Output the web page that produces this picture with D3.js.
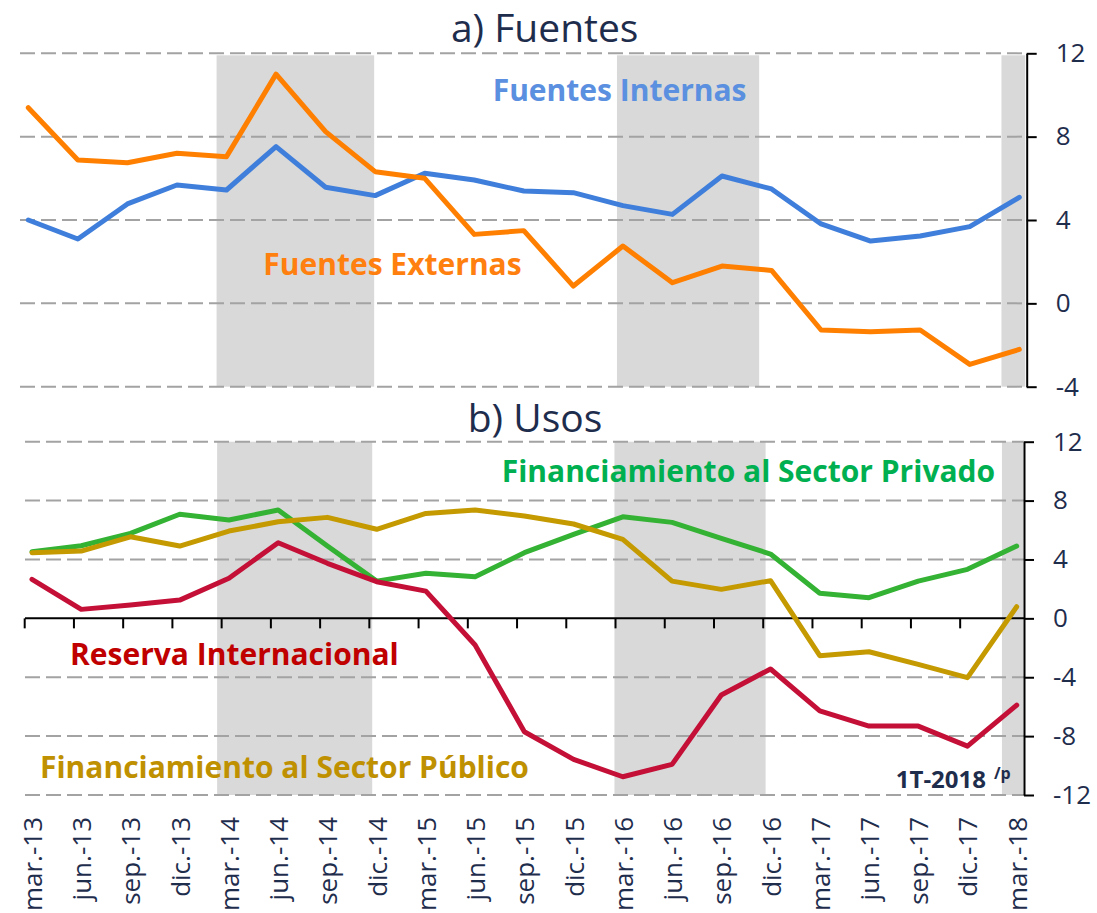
<!DOCTYPE html>
<html>
<head>
<meta charset="utf-8">
<script src="https://cdn.jsdelivr.net/npm/d3@7"></script>
<style>
  body { margin: 0; background: #fff; }
  text { font-family: "Open Sans", sans-serif; }
</style>
</head>
<body>
<script>
// categories (quarters)
var quarters = ["mar.-13","jun.-13","sep.-13","dic.-13","mar.-14","jun.-14","sep.-14","dic.-14",
                "mar.-15","jun.-15","sep.-15","dic.-15","mar.-16","jun.-16","sep.-16","dic.-16",
                "mar.-17","jun.-17","sep.-17","dic.-17","mar.-18"];

// a) Fuentes
var fuentesInternas = [4.0, 3.09, 4.77, 5.68, 5.44, 7.52, 5.57, 5.17, 6.24, 5.92, 5.39, 5.31,
                       4.69, 4.27, 6.11, 5.49, 3.81, 2.99, 3.23, 3.68, 5.09];
var fuentesExternas = [9.39, 6.88, 6.75, 7.2, 7.04, 11.0, 8.24, 6.32, 6.0, 3.31, 3.49, 0.83,
                       2.75, 0.99, 1.79, 1.58, -1.28, -1.36, -1.28, -2.93, -2.21];

// b) Usos
var sectorPrivado = [4.52, 4.93, 5.77, 7.07, 6.68, 7.36, 4.91, 2.53, 3.06, 2.83, 4.46, 5.71,
                     6.9, 6.52, 5.43, 4.37, 1.7, 1.4, 2.53, 3.33, 4.91];
var sectorPublico = [4.46, 4.57, 5.54, 4.91, 5.93, 6.56, 6.86, 6.05, 7.13, 7.36, 6.95, 6.41,
                     5.37, 2.53, 1.97, 2.56, -2.54, -2.27, -3.13, -4.03, 0.79];
var reservaInternacional = [2.65, 0.61, 0.9, 1.24, 2.72, 5.14, 3.74, 2.49, 1.85, -1.81, -7.7, -9.58,
                            -10.76, -9.92, -5.21, -3.44, -6.28, -7.32, -7.32, -8.68, -5.89];

// shaded periods, in quarter-index units
var shadesTop = [[3.8, 6.98], [11.88, 14.75], [19.64, 20.12]];
var shadesBottom = [[3.76, 6.91], [11.83, 14.9], [19.7, 20.15]];

// tick labels
var ticksTop = [-4, 0, 4, 8, 12];
var ticksBottom = [-12, -8, -4, 0, 4, 8, 12];

var navy = "#1F2D4D";
var W = 1097, H = 913;
var fmt = function(d) { return String(d); };   // plain hyphen for negatives

var svg = d3.select("body").append("svg")
            .attr("width", W)
            .attr("height", H);

// ---------- panel a ----------
var xTop = d3.scaleLinear().domain([0, 20]).range([28.3, 1019.3]);
var yTop = d3.scaleLinear().domain([-4, 12]).range([386.7, 53.3]);

var gTop = svg.append("g");

gTop.selectAll("rect.shade")
    .data(shadesTop)
    .enter().append("rect")
    .attr("class", "shade")
    .attr("x", function(d) { return xTop(d[0]); })
    .attr("width", function(d) { return Math.min(xTop(d[1]), 1026) - xTop(d[0]); })
    .attr("y", yTop(12) + 2)
    .attr("height", yTop(-4) - yTop(12) - 2)
    .attr("fill", "#D9D9D9");

gTop.selectAll("line.grid")
    .data(ticksTop)
    .enter().append("line")
    .attr("class", "grid")
    .attr("x1", 20).attr("x2", 1026.7)
    .attr("y1", function(d) { return yTop(d); })
    .attr("y2", function(d) { return yTop(d); })
    .attr("stroke", "#A3A3A3")
    .attr("stroke-width", 2)
    .attr("stroke-dasharray", "15,6");

// right axis
var axTop = gTop.append("g")
    .attr("transform", "translate(1026.7,0)")
    .call(d3.axisRight(yTop).tickValues(ticksTop).tickFormat(fmt)
            .tickSize(10).tickPadding(19).tickSizeOuter(0));
axTop.select(".domain").attr("stroke", "#000").attr("stroke-width", 2);
axTop.selectAll(".tick line").attr("stroke", "#000").attr("stroke-width", 2);
axTop.selectAll(".tick text")
     .attr("fill", navy)
     .style("font-size", "26px")
     .style("font-family", "'Open Sans', sans-serif");

var lineTop = d3.line()
    .x(function(d, i) { return xTop(i); })
    .y(function(d) { return yTop(d); });

gTop.append("path")
    .attr("d", lineTop(fuentesInternas))
    .attr("fill", "none")
    .attr("stroke", "#3F7FDB")
    .attr("stroke-width", 5)
    .attr("stroke-linejoin", "round")
    .attr("stroke-linecap", "round");

gTop.append("path")
    .attr("d", lineTop(fuentesExternas))
    .attr("fill", "none")
    .attr("stroke", "#FF7F00")
    .attr("stroke-width", 5)
    .attr("stroke-linejoin", "round")
    .attr("stroke-linecap", "round");

// titles & labels
svg.append("text")
   .attr("x", 544.7).attr("y", 41.7)
   .attr("text-anchor", "middle")
   .attr("fill", navy)
   .style("font-size", "39px")
   .text("a) Fuentes");

svg.append("text")
   .attr("x", 492.7).attr("y", 101)
   .attr("fill", "#5A90DF")
   .style("font-size", "30px").style("font-weight", "bold")
   .text("Fuentes Internas");

svg.append("text")
   .attr("x", 263.3).attr("y", 275)
   .attr("fill", "#FF7F0F")
   .style("font-size", "30px").style("font-weight", "bold")
   .text("Fuentes Externas");

// ---------- panel b ----------
var xBot = d3.scaleLinear().domain([0, 20]).range([32, 1016.7]);
var yBot = d3.scaleLinear().domain([-12, 12]).range([795, 441.7]);

var gBot = svg.append("g");

gBot.selectAll("rect.shade")
    .data(shadesBottom)
    .enter().append("rect")
    .attr("class", "shade")
    .attr("x", function(d) { return xBot(d[0]); })
    .attr("width", function(d) { return Math.min(xBot(d[1]), 1023.5) - xBot(d[0]); })
    .attr("y", yBot(12))
    .attr("height", yBot(-12) - yBot(12))
    .attr("fill", "#D9D9D9");

gBot.selectAll("line.grid")
    .data(ticksBottom.filter(function(d) { return d !== 0; }))
    .enter().append("line")
    .attr("class", "grid")
    .attr("x1", 25).attr("x2", 1024)
    .attr("y1", function(d) { return yBot(d); })
    .attr("y2", function(d) { return yBot(d); })
    .attr("stroke", "#A3A3A3")
    .attr("stroke-width", 2)
    .attr("stroke-dasharray", "15,6");

// zero axis with category ticks
gBot.append("line")
    .attr("x1", 25).attr("x2", 1024)
    .attr("y1", yBot(0)).attr("y2", yBot(0))
    .attr("stroke", "#000").attr("stroke-width", 2);
gBot.selectAll("line.xtick")
    .data(quarters.slice(0, 20))
    .enter().append("line")
    .attr("class", "xtick")
    .attr("x1", function(d, i) { return xBot(i) - 7.3; })
    .attr("x2", function(d, i) { return xBot(i) - 7.3; })
    .attr("y1", yBot(0)).attr("y2", yBot(0) + 10)
    .attr("stroke", "#000").attr("stroke-width", 2);

var axBot = gBot.append("g")
    .attr("transform", "translate(1024,0)")
    .call(d3.axisRight(yBot).tickValues(ticksBottom).tickFormat(fmt)
            .tickSize(10).tickPadding(19).tickSizeOuter(0));
axBot.select(".domain").attr("stroke", "#000").attr("stroke-width", 2);
axBot.selectAll(".tick line").attr("stroke", "#000").attr("stroke-width", 2);
axBot.selectAll(".tick text")
     .attr("fill", navy)
     .style("font-size", "26px")
     .style("font-family", "'Open Sans', sans-serif");

var lineBot = d3.line()
    .x(function(d, i) { return xBot(i); })
    .y(function(d) { return yBot(d); });

var usos = [
  {values: sectorPrivado, color: "#34B233"},
  {values: sectorPublico, color: "#C49A00"},
  {values: reservaInternacional, color: "#C40F37"}
];
usos.forEach(function(s) {
  gBot.append("path")
      .attr("d", lineBot(s.values))
      .attr("fill", "none")
      .attr("stroke", s.color)
      .attr("stroke-width", 5)
      .attr("stroke-linejoin", "round")
      .attr("stroke-linecap", "round");
});

svg.append("text")
   .attr("x", 535).attr("y", 431.7)
   .attr("text-anchor", "middle")
   .attr("fill", navy)
   .style("font-size", "39px")
   .text("b) Usos");

svg.append("text")
   .attr("x", 501.7).attr("y", 481.7)
   .attr("fill", "#00B050")
   .style("font-size", "30px").style("font-weight", "bold")
   .text("Financiamiento al Sector Privado");

svg.append("text")
   .attr("x", 70).attr("y", 665)
   .attr("fill", "#C00000")
   .style("font-size", "30px").style("font-weight", "bold")
   .text("Reserva Internacional");

svg.append("text")
   .attr("x", 40).attr("y", 778.3)
   .attr("fill", "#BF9000")
   .style("font-size", "30px").style("font-weight", "bold")
   .text("Financiamiento al Sector Público");

svg.append("text")
   .attr("x", 986).attr("y", 788.3)
   .attr("text-anchor", "end")
   .attr("fill", navy)
   .style("font-size", "24px").style("font-weight", "bold")
   .text("1T-2018");

svg.append("text")
   .attr("x", 994).attr("y", 779)
   .attr("fill", navy)
   .style("font-size", "16px").style("font-weight", "bold")
   .text("/p");

// x labels
svg.selectAll("text.xlab")
   .data(quarters)
   .enter().append("text")
   .attr("class", "xlab")
   .attr("transform", function(d, i) { return "translate(" + (xBot(i) + 10) + ",817) rotate(-90)"; })
   .attr("text-anchor", "end")
   .attr("fill", navy)
   .style("font-size", "26px")
   .text(function(d) { return d; });
</script>
</body>
</html>
